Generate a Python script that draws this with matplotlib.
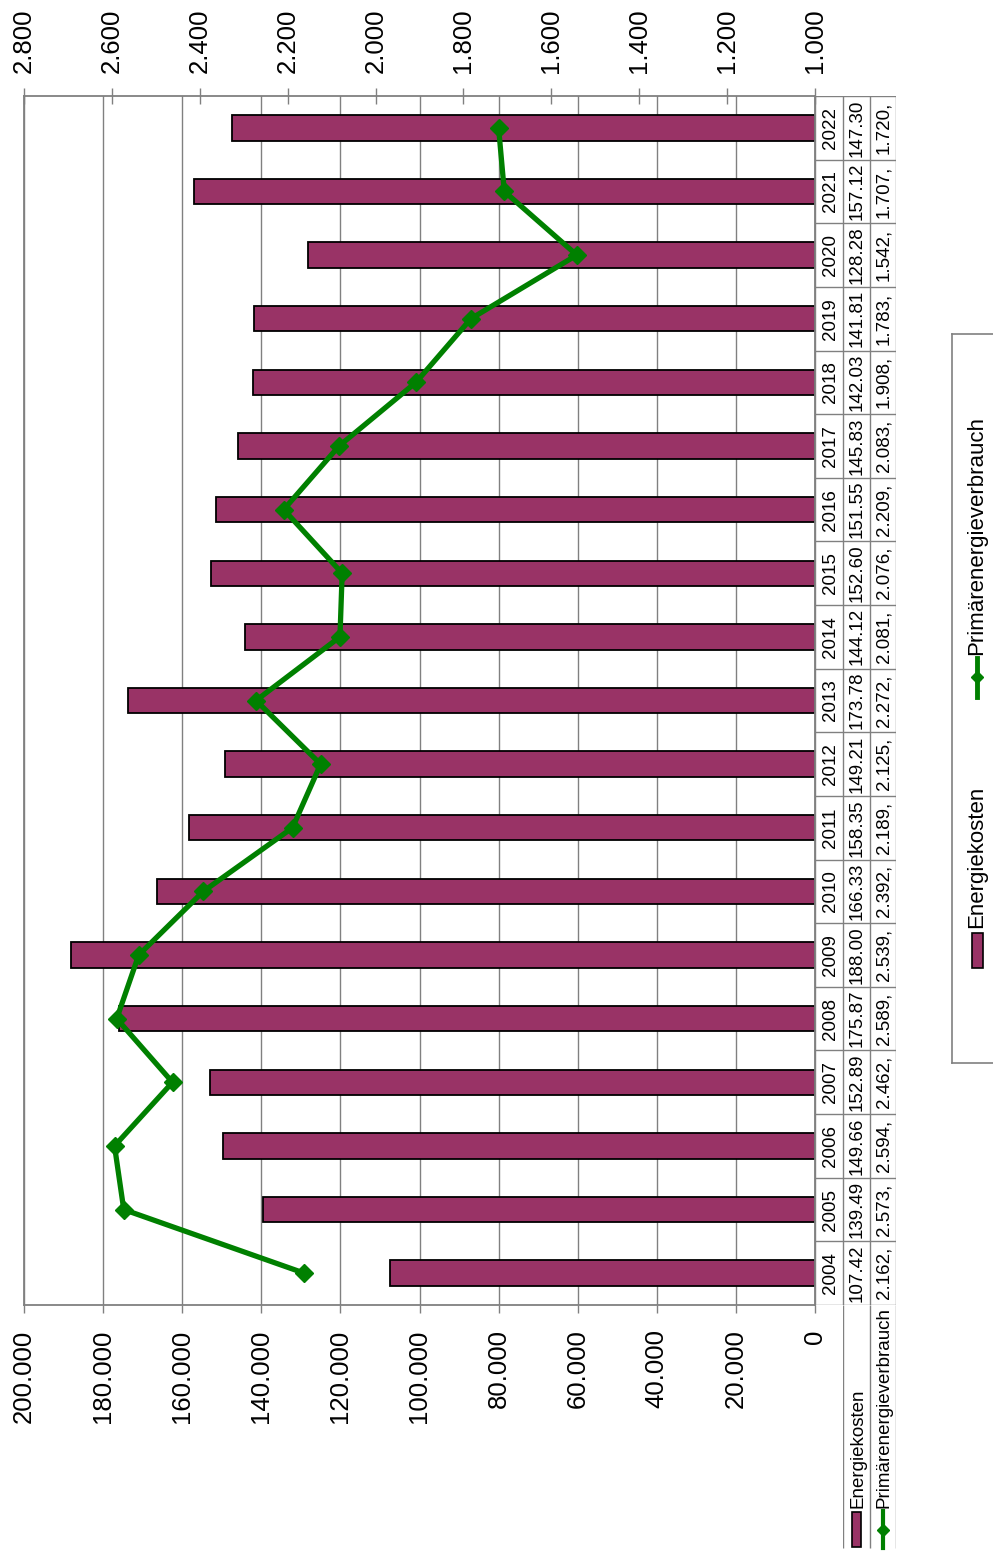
import matplotlib.pyplot as plt
from matplotlib.patches import Rectangle
from matplotlib.ticker import FuncFormatter

plt.rcParams["font.family"] = ["Liberation Sans", "DejaVu Sans"]

# data (Energiekosten in EUR, Primärenergieverbrauch in MWh)
YEARS = list(range(2004, 2023))
ENERGIEKOSTEN = [107420, 139490, 149660, 152890, 175870, 188000, 166330, 158350,
                 149210, 173780, 144120, 152600, 151550, 145830, 142030, 141810,
                 128280, 157120, 147300]
PRIMAERENERGIE = [2162, 2573, 2594, 2462, 2589, 2539, 2392, 2189, 2125, 2272,
                  2081, 2076, 2209, 2083, 1908, 1783, 1542, 1707, 1720]
KOSTEN_TICKS = list(range(0, 200001, 20000))
PRIMAER_TICKS = list(range(1000, 2801, 200))
SERIES = ["Energiekosten", "Primärenergieverbrauch"]

BAR_COLOR = "#993366"
LINE_COLOR = "#008000"
GREY = "#808080"
W, H = 993, 1551


def px(x0, y0, x1, y1):
    # pixel box (top-left origin) -> figure fraction rect
    return [x0 / W, 1 - y1 / H, (x1 - x0) / W, (y1 - y0) / H]


def de_num(v, _pos=None):
    return f"{v:,.0f}".replace(",", ".")


fig = plt.figure(figsize=(W / 100, H / 100), dpi=100)

# main plot, drawn rotated: categories run bottom -> top
ax = fig.add_axes(px(24, 96, 815, 1305))
ypos = list(range(len(YEARS)))
ax.barh(ypos, ENERGIEKOSTEN, height=0.4, color=BAR_COLOR, edgecolor="black",
        linewidth=1.3, zorder=2)
ax.set_xlim(200000, 0)
ax.set_ylim(-0.5, len(YEARS) - 0.5)
ax.set_xticks(KOSTEN_TICKS)
ax.xaxis.set_major_formatter(FuncFormatter(de_num))
ax.tick_params(axis="x", labelrotation=90, labelsize=18.5, direction="out",
               length=5.5, width=1, color=GREY, pad=12)
ax.tick_params(axis="y", left=False, labelleft=False)
ax.grid(axis="x", color=GREY, linewidth=1)
ax.set_axisbelow(True)
for sp in ax.spines.values():
    sp.set_color(GREY)
    sp.set_linewidth(1.3)

ax2 = ax.twiny()
ax2.plot(PRIMAERENERGIE, ypos, color=LINE_COLOR, linewidth=3.8, marker="D",
         markersize=9.5, zorder=3)
ax2.set_xlim(2800, 1000)
ax2.set_xticks(PRIMAER_TICKS)
ax2.xaxis.set_major_formatter(FuncFormatter(de_num))
ax2.tick_params(axis="x", labelrotation=90, labelsize=18.5, direction="inout",
                length=11, width=1, color=GREY, pad=11)
for sp in ax2.spines.values():
    sp.set_visible(False)

# data table beside the plot
tab = fig.add_axes(px(815, 96, 896, 1305), sharey=ax)
tab.set_xlim(0, 81)
tab.axis("off")
cols = [0, 28, 55, 81]
tab.vlines(cols, -0.5, len(YEARS) - 0.5, color=GREY, linewidth=1)
tab.hlines([y - 0.5 for y in ypos] + [len(YEARS) - 0.5], 0, 81, color=GREY, linewidth=1)
for y, year, cost, prim in zip(ypos, YEARS, ENERGIEKOSTEN, PRIMAERENERGIE):
    cells = [str(year), de_num(cost)[:6], de_num(prim) + ","]
    for c, txt in enumerate(cells):
        tab.text((cols[c] + cols[c + 1]) / 2 + 1, y, txt, rotation=90,
                 ha="center", va="center", fontsize=13.5)

# row headers of the table
hdr = fig.add_axes(px(843, 1305, 896, 1551))
hdr.set_xlim(0, 53)
hdr.set_ylim(246, 0)
hdr.axis("off")
hdr.vlines([0, 27, 53], 0, 243, color=GREY, linewidth=1)
hdr.add_patch(Rectangle((9, 207), 9, 35, facecolor=BAR_COLOR, edgecolor="black",
                        linewidth=1.2))
hdr.text(14.5, 203, SERIES[0], rotation=90, ha="center", va="bottom", fontsize=13.5)
hdr.plot([40, 40], [206, 243], color=LINE_COLOR, linewidth=3)
hdr.plot([40], [225], color=LINE_COLOR, marker="D", markersize=6)
hdr.text(41, 203, SERIES[1], rotation=90, ha="center", va="bottom", fontsize=13.5)

# legend box on the right edge
leg = fig.add_axes(px(952, 334, 1010, 1063))
leg.set_xlim(0, 58)
leg.set_ylim(729, 0)
leg.set_xticks([])
leg.set_yticks([])
for name, sp in leg.spines.items():
    sp.set_color(GREY)
    sp.set_linewidth(1.2)
    sp.set_visible(name != "right")
leg.add_patch(Rectangle((20, 599), 11, 35, facecolor=BAR_COLOR, edgecolor="black",
                        linewidth=1.2))
leg.text(24.5, 594, SERIES[0], rotation=90, ha="center", va="bottom", fontsize=16)
leg.plot([25, 25], [324, 363], color=LINE_COLOR, linewidth=3.5)
leg.plot([25], [343], color=LINE_COLOR, marker="D", markersize=6.5)
leg.text(24.5, 321, SERIES[1], rotation=90, ha="center", va="bottom", fontsize=16)

fig.savefig("out.png", dpi=100)
